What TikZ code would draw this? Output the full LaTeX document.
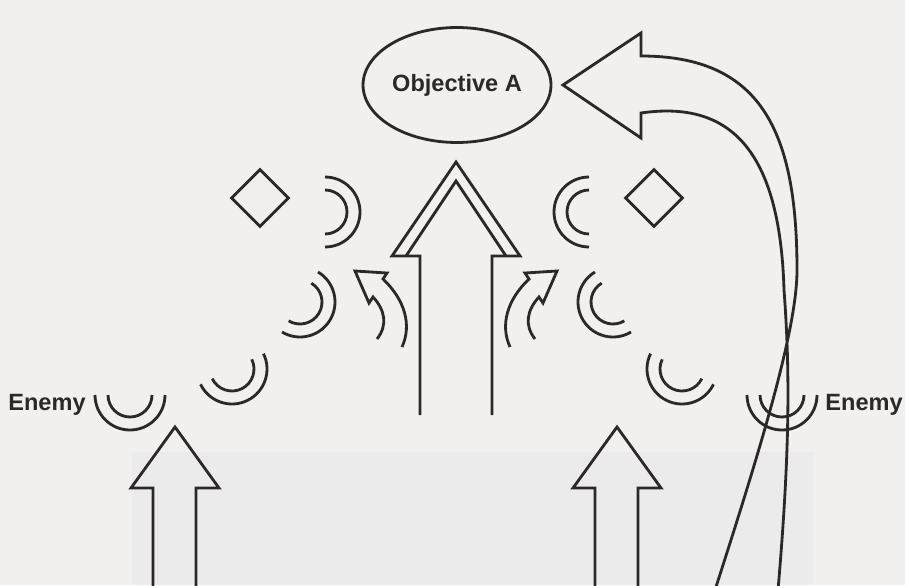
\documentclass[tikz,border=0pt]{standalone}
\usepackage{fontspec}
\setmainfont{Liberation Sans}
\usetikzlibrary{shapes.geometric}
\definecolor{mapaper}{RGB}{242,239,239}
\definecolor{mashade}{RGB}{236,235,235}
\definecolor{maink}{RGB}{45,40,40}

% double arc: centre x, centre y, facing angle
\newcommand{\doublearc}[3]{%
  \draw[maink] (#1,#2) ++(#3-90:35) arc[start angle=#3-90, end angle=#3+90, radius=35];
  \draw[maink] (#1,#2) ++(#3-90:22) arc[start angle=#3-90, end angle=#3+90, radius=22];}

\begin{document}
\begin{tikzpicture}[x=0.02cm, y=-0.02cm, line width=1.6pt, line join=miter,
  every node/.style={font=\fontsize{13.4}{16}\selectfont\bfseries, text=maink}]
\useasboundingbox (0,0) rectangle (905,585);
\fill[mapaper] (0,0) rectangle (905,585);
\fill[mashade] (132,452) rectangle (813,585);

% Objective and posts
\node[draw=maink, ellipse, minimum width=3.76cm, minimum height=2.3cm, inner sep=0pt] (objA) at (457,85) {Objective A};
\node[draw=maink, diamond, minimum width=1.16cm, minimum height=1.16cm, inner sep=0pt] (postL) at (260,198) {};
\node[draw=maink, diamond, minimum width=1.16cm, minimum height=1.16cm, inner sep=0pt] (postR) at (654,198) {};

% Enemy labels
\node (enemyL) at (47,405) {Enemy};
\node (enemyR) at (864,405) {Enemy};

% Enemy positions
\doublearc{325}{212}{0}
\doublearc{300}{302}{31}
\doublearc{232}{369}{64}
\doublearc{130}{395}{90}
\doublearc{589}{212}{180}
\doublearc{613}{302}{149}
\doublearc{682}{369}{116}
\doublearc{782}{395}{90}

% Main thrust
\draw[maink] (420,415) -- (420,256) -- (392,256) -- (456,162) -- (520,256) -- (492,256) -- (492,415);
\draw[maink] (406,256) -- (456,181) -- (506,256);

% Small flanking arrows
\draw[maink] (402,347) .. controls (412,325) and (405,300) .. (383,279) -- (387,273) -- (355,271)
  -- (369,303) -- (373,297) .. controls (385,310) and (388,325) .. (377,339);
\draw[maink] (510,347) .. controls (500,325) and (507,300) .. (529,279) -- (525,273) -- (557,271)
  -- (543,303) -- (539,297) .. controls (527,310) and (524,325) .. (535,339);

% Supporting attacks
\draw[maink] (153,590) -- (153,488) -- (131,488) -- (175,427) -- (219,488) -- (196,488) -- (196,590);
\draw[maink] (595,590) -- (595,488) -- (573,488) -- (617,427) -- (661,488) -- (638,488) -- (638,590);

% Envelopment
\draw[maink] (715,590) .. controls (760,450) and (797,330) .. (797,270)
  .. controls (797,130) and (760,56) .. (641,56) -- (641,33) -- (563,85) -- (641,138) -- (641,113)
  .. controls (730,100) and (780,150) .. (784,290) .. controls (790,370) and (790,450) .. (778,590);
\end{tikzpicture}
\end{document}
